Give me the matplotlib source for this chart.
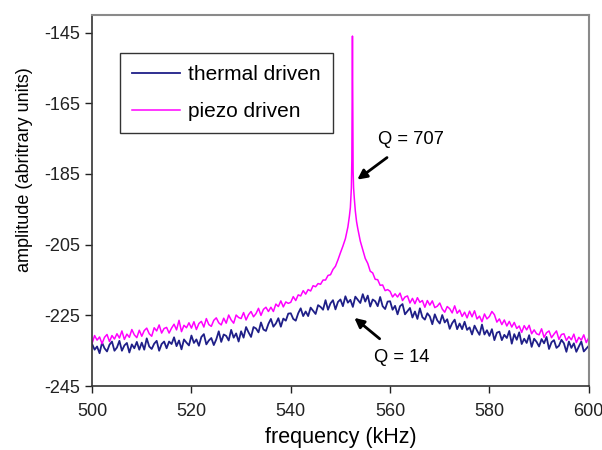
#- Thermal vs piezo driven cantilever spectra
import numpy as np
import matplotlib.pyplot as plt

plt.rcParams['font.family'] = ['Liberation Sans', 'DejaVu Sans']
plt.rcParams['axes.unicode_minus'] = False

#- Data: frequency grid (kHz), 0.5 kHz spacing from 500 to 600
f_start, f_stop, f_step = 500.0, 600.0, 0.5
freq = np.arange(f_start, f_stop + f_step / 2, f_step)

thermal_amp = [
    -233.1, -234.7, -233.8, -235.7, -232.7, -234.3, -235.2, -233.3, -232.4, -235.0,
    -234.1, -232.2, -235.0, -233.5, -232.8, -235.5, -233.2, -234.3, -232.5, -234.7,
    -232.7, -234.7, -231.5, -233.8, -234.5, -233.0, -232.2, -235.0, -233.1, -232.4,
    -234.3, -232.4, -233.1, -231.2, -233.7, -232.1, -234.6, -231.8, -232.7, -233.5,
    -230.7, -232.8, -231.8, -233.6, -231.1, -230.3, -233.2, -232.1, -231.4, -233.4,
    -231.8, -229.5, -232.5, -230.4, -230.8, -232.1, -229.1, -231.3, -230.1, -232.4,
    -229.5, -231.3, -228.3, -229.8, -231.1, -228.3, -228.7, -229.8, -227.0, -229.0,
    -229.4, -227.4, -226.0, -228.2, -227.3, -225.8, -228.2, -225.9, -226.5, -224.5,
    -224.4, -226.0, -226.5, -224.4, -223.0, -225.2, -223.9, -225.2, -222.8, -223.7,
    -224.6, -222.1, -222.6, -223.4, -220.7, -223.4, -221.6, -220.7, -223.3, -221.2,
    -220.5, -222.4, -219.6, -221.4, -220.6, -222.6, -219.7, -220.6, -221.5, -219.0,
    -221.1, -219.4, -222.5, -220.5, -221.0, -222.4, -219.8, -222.4, -223.2, -221.1,
    -221.0, -223.4, -222.3, -224.7, -222.4, -221.8, -224.7, -223.8, -222.9, -225.6,
    -223.9, -226.0, -223.0, -225.5, -226.2, -224.4, -225.3, -227.5, -224.7, -226.4,
    -227.3, -224.9, -227.0, -226.1, -228.8, -227.2, -226.2, -228.9, -227.3, -228.9,
    -226.8, -229.1, -228.4, -230.4, -227.9, -229.3, -230.5, -227.6, -230.4, -229.2,
    -230.8, -228.9, -232.0, -229.9, -229.6, -232.0, -230.5, -231.4, -229.4, -233.0,
    -230.3, -231.9, -229.8, -233.1, -231.6, -232.8, -230.6, -233.9, -231.6, -232.5,
    -233.8, -231.7, -232.9, -231.1, -234.5, -232.6, -232.0, -234.2, -233.6, -231.9,
    -232.9, -235.3, -232.4, -234.2, -232.9, -235.3, -233.8, -232.4, -235.2, -234.4,
    -233.6,
]

piezo_amp = [
    -232.9, -230.7, -232.0, -231.1, -233.0, -231.2, -230.4, -232.4, -230.7, -231.7,
    -230.2, -231.4, -229.4, -231.8, -230.3, -231.2, -229.0, -230.5, -231.3, -229.2,
    -230.9, -229.3, -228.6, -230.2, -230.9, -228.5, -229.4, -227.7, -230.0, -228.7,
    -228.4, -230.0, -228.6, -227.5, -229.1, -226.4, -229.6, -227.8, -228.5, -227.1,
    -228.6, -226.8, -229.0, -227.3, -226.7, -228.3, -225.9, -227.6, -228.1, -226.4,
    -225.7, -227.1, -227.7, -225.8, -227.2, -224.9, -226.3, -227.2, -224.9, -225.6,
    -225.9, -224.2, -226.3, -224.8, -223.9, -225.4, -224.5, -223.0, -225.0, -223.3,
    -222.7, -223.9, -222.7, -223.9, -221.8, -222.5, -220.9, -222.6, -221.2, -221.6,
    -221.3, -219.7, -220.8, -219.2, -219.5, -218.0, -219.0, -217.7, -218.1, -216.6,
    -216.9, -216.0, -216.2, -215.0, -215.0, -213.7, -213.5, -212.0, -211.1, -209.3,
    -207.3, -205.4, -203.3, -200.0, -194.5, -146.0, -195.5, -200.5, -204.0, -206.4,
    -208.9, -210.3, -212.5, -213.0, -214.8, -214.9, -216.5, -216.4, -218.0, -217.7,
    -218.2, -219.8, -218.9, -219.8, -218.7, -220.8, -219.8, -219.5, -221.5, -220.2,
    -221.7, -220.0, -221.3, -220.8, -222.7, -220.8, -222.1, -220.9, -222.8, -222.4,
    -221.5, -223.2, -224.1, -222.5, -223.1, -224.3, -222.3, -224.4, -223.5, -225.3,
    -224.1, -225.7, -223.8, -225.4, -223.7, -226.0, -225.2, -226.8, -224.6, -226.0,
    -225.3, -223.9, -224.8, -226.9, -226.0, -227.6, -226.3, -228.0, -226.7, -228.3,
    -227.0, -228.7, -228.0, -229.8, -227.9, -229.1, -227.8, -230.2, -229.1, -230.2,
    -230.5, -228.8, -231.2, -229.9, -229.4, -231.3, -230.3, -229.4, -231.8, -230.4,
    -230.2, -232.1, -231.0, -231.9, -230.3, -232.7, -231.2, -232.0, -230.5, -232.7,
    -231.3,
]

#- Finer samples across the narrow piezo resonance
peak_freq = [551.5, 551.8, 552.0, 552.1, 552.2, 552.3, 552.38, 552.42,
             552.48, 552.55, 552.65, 552.8, 553.0, 553.25, 553.5]
peak_amp = [-200.0, -197.0, -194.5, -192.0, -189.0, -181.0, -160.0, -146.0,
            -165.0, -184.0, -189.0, -192.0, -195.5, -198.5, -200.5]

y_ticks = [-245, -225, -205, -185, -165, -145]
x_ticks = [500, 520, 540, 560, 580, 600]

# merge the fine peak samples into the piezo trace
piezo_amp = np.array(piezo_amp)
outside = (freq < min(peak_freq)) | (freq > max(peak_freq))
pz_f = np.concatenate([freq[outside], peak_freq])
pz_a = np.concatenate([piezo_amp[outside], peak_amp])
order = np.argsort(pz_f)
pz_f, pz_a = pz_f[order], pz_a[order]

#- Plot
fig = plt.figure(figsize=(6.02, 4.5), dpi=100)
ax = fig.add_axes([0.153, 0.142, 0.825, 0.825])

ax.plot(freq, thermal_amp, color='#1f1f88', lw=1.3, label='thermal driven')
ax.plot(pz_f, pz_a, color='#ff00ff', lw=1.1, label='piezo driven')

ax.set_xlim(500, 600)
ax.set_ylim(-245, -140)
ax.set_xticks(x_ticks)
ax.set_yticks(y_ticks)
ax.tick_params(direction='out', length=5, width=1, labelsize=13,
               colors='#222222')
ax.tick_params(axis='x', pad=7)
ax.set_xlabel('frequency (kHz)', fontsize=15.5, labelpad=5)
ax.set_ylabel('amplitude (abritrary units)', fontsize=13)
ax.yaxis.set_label_coords(-0.12, 0.582)

for side in ['left', 'bottom']:
    ax.spines[side].set_color('#333333')
    ax.spines[side].set_linewidth(1.2)
for side in ['top', 'right']:
    ax.spines[side].set_color('#8a8a8a')
    ax.spines[side].set_linewidth(1.5)

leg = ax.legend(loc='upper left', bbox_to_anchor=(0.056, 0.898),
                borderaxespad=0, fontsize=15, handlelength=2.3,
                handletextpad=0.35, fancybox=False, edgecolor='#333333',
                framealpha=1, borderpad=0.6, labelspacing=0.85)
leg.get_frame().set_linewidth(1.0)

ax.annotate('Q = 707', xy=(553.4, -186.6), xytext=(557.6, -175.3),
            fontsize=13.2, va='center', ha='left',
            arrowprops=dict(arrowstyle='-|>', color='black', lw=2,
                            mutation_scale=14, shrinkA=8, shrinkB=0))
ax.annotate('Q = 14', xy=(552.8, -225.7), xytext=(556.8, -236.8),
            fontsize=13.2, va='center', ha='left',
            arrowprops=dict(arrowstyle='-|>', color='black', lw=2,
                            mutation_scale=14, shrinkA=8, shrinkB=0))

plt.savefig('out.png', dpi=100)
